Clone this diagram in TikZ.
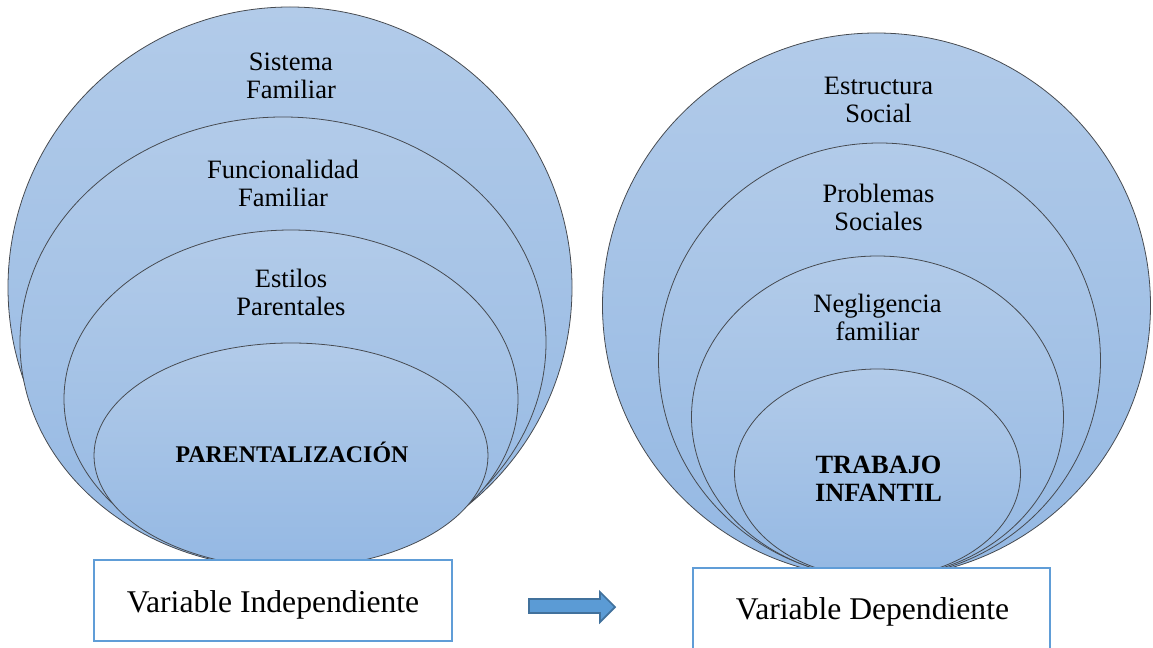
\documentclass[tikz,border=0pt]{standalone}
\usepackage{fontspec}
\setmainfont{Liberation Serif}
\usepackage{tikz}
\usetikzlibrary{positioning,calc}
\usepackage{xcolor}

\definecolor{ringtop}{RGB}{178,203,233}
\definecolor{ringbot}{RGB}{148,184,227}
\definecolor{ringline}{RGB}{70,74,80}
\definecolor{boxline}{RGB}{96,157,215}
\definecolor{arrfill}{RGB}{91,155,213}
\definecolor{arrline}{RGB}{65,113,156}

\begin{document}
\begin{tikzpicture}[x=0.02cm, y=-0.02cm,
    ring/.style={top color=ringtop, bottom color=ringbot, draw=ringline, line width=0.45pt},
    label/.style={align=center, inner sep=0pt, font=\fontsize{15.1}{15.9}\selectfont},
    core/.style={align=center, inner sep=0pt, font=\fontsize{15}{15.9}\selectfont\bfseries},
    varbox/.style={draw=boxline, line width=1.1pt, fill=white},
    vartext/.style={inner sep=0pt, font=\fontsize{18}{20}\selectfont}]
    \useasboundingbox (0,0) rectangle (1153,648);
    \clip (0,0) rectangle (1153,648);

    % Independent variable: nested rings
    \shade[ring] (290,287.5) ellipse [x radius=282*0.02cm, y radius=280.5*0.02cm];
    \shade[ring] (283,342.5) ellipse [x radius=263*0.02cm, y radius=225.5*0.02cm];
    \shade[ring] (291,399) ellipse [x radius=227*0.02cm, y radius=169*0.02cm];
    \shade[ring] (291,455.5) ellipse [x radius=197*0.02cm, y radius=112.5*0.02cm];

    \node[label] (sistema) at (291,76) {Sistema\\Familiar};
    \node[label] (funcional) at (283,183.5) {Funcionalidad\\Familiar};
    \node[label] (estilos) at (291,292) {Estilos\\Parentales};
    \node[core, font=\fontsize{13.6}{15}\selectfont\bfseries, anchor=base] (parental) at (292,462) {PARENTALIZACIÓN};

    % Dependent variable: nested rings
    \shade[ring] (876.5,305.5) ellipse [x radius=274*0.02cm, y radius=272.5*0.02cm];
    \shade[ring] (879.5,360.5) ellipse [x radius=221*0.02cm, y radius=217.5*0.02cm];
    \shade[ring] (877.5,417) ellipse [x radius=186*0.02cm, y radius=161*0.02cm];
    \shade[ring] (877.5,473.5) ellipse [x radius=143*0.02cm, y radius=104.5*0.02cm];

    \node[label] (estructura) at (878.5,100) {Estructura\\Social};
    \node[label] (problemas) at (878.5,207.5) {Problemas\\Sociales};
    \node[label] (negligencia) at (877.5,317) {Negligencia\\familiar};
    \node[core] (trabajo) at (878.5,479) {TRABAJO\\INFANTIL};

    % Variable boxes
    \draw[varbox] (94,560) rectangle (452,641);
    \node[vartext, anchor=base] (indep) at (273,612) {Variable Independiente};

    \draw[varbox] (693,568) rectangle (1050,680);
    \node[vartext, anchor=base] (dep) at (872.5,619) {Variable Dependiente};

    % Block arrow between the two
    \draw[fill=arrfill, draw=arrline, line width=1pt]
        (529,599) -- (600,599) -- (600,592) -- (615,607) -- (600,622)
        -- (600,613) -- (529,613) -- cycle;
\end{tikzpicture}
\end{document}
